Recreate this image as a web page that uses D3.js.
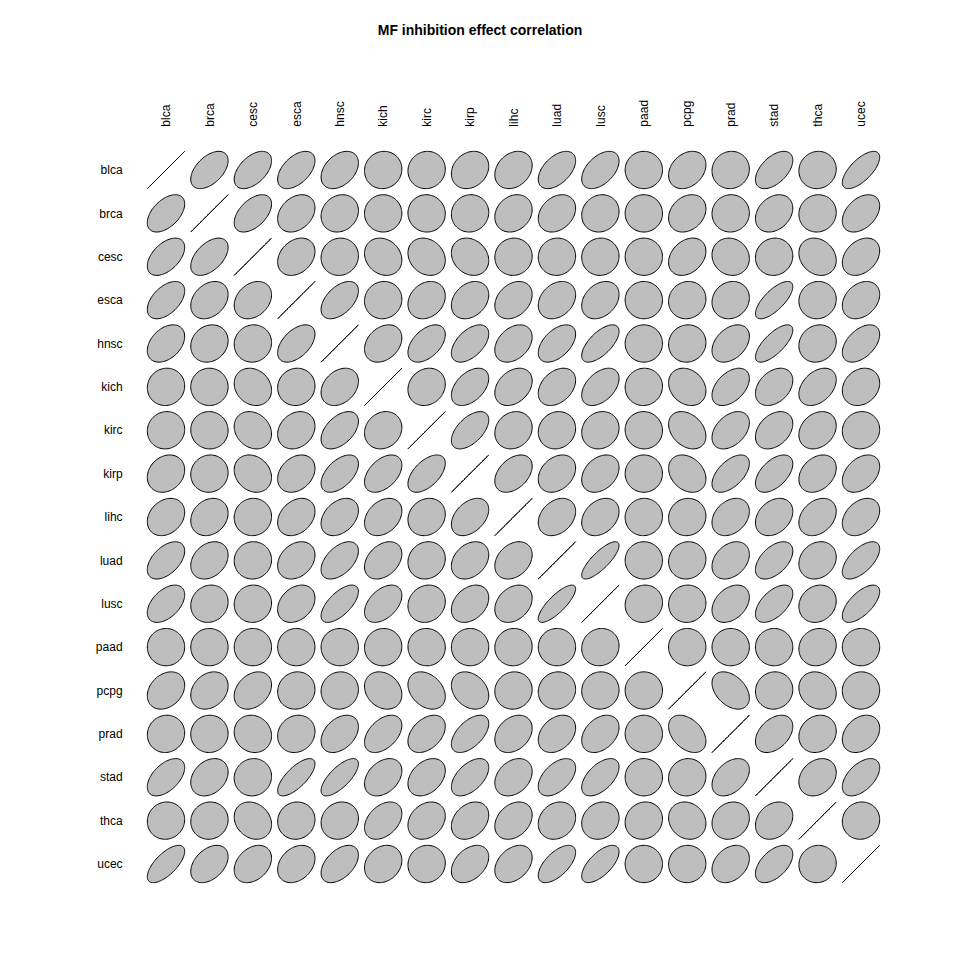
<!DOCTYPE html>
<html>
<head>
<meta charset="utf-8">
<script src="https://cdn.jsdelivr.net/npm/d3@7"></script>
<style>
  html, body { margin: 0; padding: 0; background: #ffffff; }
  svg { display: block; font-family: "Liberation Sans", Arial, Helvetica, sans-serif; }
</style>
</head>
<body>
<svg id="chart" width="960" height="960"></svg>
<script>
// ---- Data ----
const chartTitle = "MF inhibition effect correlation";
const labels = ["blca","brca","cesc","esca","hnsc","kich","kirc","kirp","lihc","luad","lusc","paad","pcpg","prad","stad","thca","ucec"];

const blca = [1, .5, .5, .5, .38, .05, .05, .2, .25, .5, .48, 0, .28, .05, .52, .05, .68];
const brca = [.5, 1, .5, .3, .15, 0, -.02, .05, .2, .28, .1, 0, .25, .02, .28, .05, .4];
const cesc = [.5, .5, 1, .28, .05, -.18, -.2, -.2, .03, .03, .03, 0, .3, -.1, .05, -.2, .32];
const esca = [.5, .3, .28, 1, .5, .05, .22, .28, .3, .28, .3, 0, .07, .12, .72, .05, .3];
const hnsc = [.38, .15, .05, .5, 1, .3, .48, .52, .35, .5, .65, 0, .05, .38, .72, .12, .48];
const kich = [.05, 0, -.18, .05, .3, 1, .15, .45, .32, .35, .45, .03, -.22, .45, .35, .38, .2];
const kirc = [.05, -.02, -.2, .22, .48, .15, 1, .55, .15, .1, .12, -.02, -.32, .4, .35, .25, .05];
const kirp = [.2, .05, -.2, .28, .52, .45, .55, 1, .4, .3, .32, 0, -.28, .55, .52, .3, .38];
const lihc = [.25, .2, .03, .3, .35, .32, .15, .4, 1, .3, .3, .03, .05, .3, .3, .3, .35];
const luad = [.5, .28, .03, .28, .5, .35, .1, .3, .3, 1, .8, 0, .07, .32, .5, .18, .62];
const lusc = [.48, .1, .03, .3, .65, .45, .12, .32, .3, .8, 1, .07, .03, .35, .55, .15, .65];
const paad = [0, 0, 0, 0, 0, .03, -.02, 0, .03, 0, .07, 1, 0, 0, 0, .1, 0];
const pcpg = [.28, .25, .3, .07, .05, -.22, -.32, -.28, .05, .07, .03, 0, 1, -.4, .05, -.15, .02];
const prad = [.05, .02, -.1, .12, .38, .45, .4, .55, .3, .32, .35, 0, -.4, 1, .4, .15, .3];
const stad = [.52, .28, .05, .72, .72, .35, .35, .52, .3, .5, .55, 0, .05, .4, 1, .25, .52];
const thca = [.05, .05, -.2, .05, .12, .38, .25, .3, .3, .18, .15, .1, -.15, .15, .25, 1, .05];
const ucec = [.68, .4, .32, .3, .48, .2, .05, .38, .35, .62, .65, 0, .02, .3, .52, .05, 1];

const corrRows = [blca, brca, cesc, esca, hnsc, kich, kirc, kirp, lihc, luad, lusc, paad, pcpg, prad, stad, thca, ucec];

// ---- Drawing ----
const n = labels.length;
const svg = d3.select("#chart");

// column index (1..n) -> x ; row index (1..n) -> y (screen, increasing downward)
const x = d3.scaleLinear().domain([1, n]).range([166, 861]);
const y = d3.scaleLinear().domain([1, n]).range([170, 864]);

const T = 0.43, NPTS = 100;
function ellipsePoints(r) {
  const d = Math.acos(Math.max(-1, Math.min(1, r)));
  const pts = [];
  for (let k = 0; k < NPTS; k++) {
    const a = 2 * Math.PI * k / (NPTS - 1);
    pts.push([T * Math.cos(a + d / 2), T * Math.cos(a - d / 2)]);
  }
  return pts;
}

const cells = [];
corrRows.forEach((row, i) => row.forEach((r, j) => cells.push({i: i + 1, j: j + 1, r})));

const line = d3.line();
const g = svg.append("g");
g.selectAll("path.ell")
  .data(cells)
  .join("path")
  .attr("class", "ell")
  .attr("d", c => {
    const pts = ellipsePoints(c.r).map(([dx, dy]) => [x(c.j + dx), y(c.i - dy)]);
    return line(pts) + (c.r < 0.9999 ? "Z" : "");
  })
  .attr("fill", c => c.r < 0.9999 ? "#BEBEBE" : "none")
  .attr("stroke", "#000")
  .attr("stroke-width", 1);

// Row labels
svg.append("g").selectAll("text")
  .data(labels)
  .join("text")
  .attr("x", x(0))
  .attr("y", (d, i) => y(i + 1))
  .attr("dy", "0.35em")
  .attr("text-anchor", "end")
  .attr("font-size", 12)
  .attr("fill", "#000")
  .text(d => d);

// Column labels (rotated)
svg.append("g").selectAll("text")
  .data(labels)
  .join("text")
  .attr("transform", (d, i) => `translate(${x(i + 1)},${y(0)}) rotate(-90)`)
  .attr("dy", "0.35em")
  .attr("text-anchor", "start")
  .attr("font-size", 12)
  .attr("fill", "#000")
  .text(d => d);

// Title
svg.append("text")
  .attr("x", 480)
  .attr("y", 35)
  .attr("text-anchor", "middle")
  .attr("font-size", 14)
  .attr("font-weight", "bold")
  .attr("fill", "#000")
  .text(chartTitle);
</script>
</body>
</html>
